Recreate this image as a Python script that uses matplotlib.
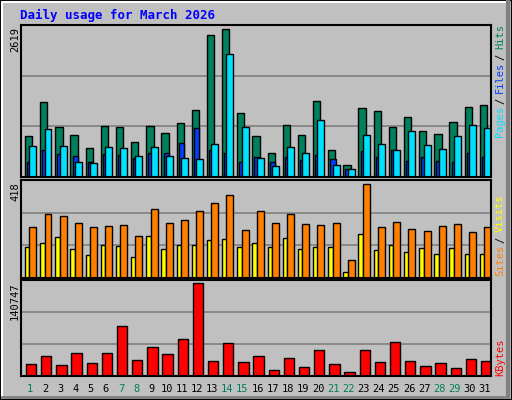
import matplotlib
matplotlib.use("Agg")
import matplotlib.pyplot as plt
from matplotlib.patches import Rectangle
import numpy as np

days = list(range(1, 32))
weekend = [1, 7, 8, 14, 15, 21, 22, 28, 29]
hits = [726,1327,885,743,513,903,885,619,903,779,956,1186,2513,2619,1133,726,425,920,743,1345,478,212,1221,1168,885,1062,814,761,973,1239,1274]
files = [266,478,407,372,266,407,389,336,425,425,602,867,478,425,266,354,266,354,301,389,319,142,460,354,478,283,354,283,266,425,354]
pages = [549,850,549,266,248,531,513,372,531,372,336,319,584,2177,885,336,195,531,425,1009,212,142,743,584,478,814,566,496,726,920,867]
sites = [136,154,182,127,104,145,141,95,186,127,145,145,168,173,136,154,136,177,127,136,136,27,195,123,145,114,132,109,132,109,109]
visits = [227,286,277,245,227,232,236,186,309,245,259,300,336,368,213,300,245,286,241,236,245,82,418,227,250,218,209,232,241,204,227]
kbytes = [18561,30935,17014,35576,20108,35576,75790,24748,43309,34029,55682,140747,23201,49495,21655,30935,9281,27841,13921,38668,18561,6187,38668,21655,51042,23201,15467,20108,12374,26295,23201]

W, H = 512, 400
fig = plt.figure(figsize=(W/100, H/100), dpi=100, facecolor="#c0c0c0")
mono = "DejaVu Sans Mono"
GREEN, BLUE, CYAN = "#00805c", "#0040ff", "#00e0ff"
YEL, ORA, RED = "#ffff00", "#ff8000", "#ff0000"

fig.patches.append(Rectangle((0, 0), 1, 1, transform=fig.transFigure, fill=False, ec="black", lw=1.5))
fig.lines.append(plt.Line2D([2/W, 2/W, 1-4/W], [4/H, 1-2/H, 1-2/H], transform=fig.transFigure, color="white", lw=1.5))
fig.lines.append(plt.Line2D([1-4/W, 1-4/W], [4/H, 1-2/H], transform=fig.transFigure, color="#808080", lw=3))
fig.lines.append(plt.Line2D([2/W, 1-4/W], [3/H, 3/H], transform=fig.transFigure, color="#808080", lw=2))

def mkax(top, bottom):
    ax = fig.add_axes([21/W, 1-bottom/H, 470/W, (bottom-top)/H])
    ax.set_facecolor("#c0c0c0")
    ax.set_xlim(0, 31)
    ax.set_xticks([]); ax.set_yticks([])
    for s in ax.spines.values():
        s.set_color("black"); s.set_linewidth(1.5)
    return ax

x = np.arange(31)
def grid(ax, ymax):
    for f in (1/3, 2/3):
        ax.axhline(ymax*f, color="#808080", lw=1.2, zorder=0)

ax1 = mkax(25, 177)
ym1 = max(hits)*152/148
ax1.set_ylim(0, ym1); grid(ax1, ym1)
ax1.bar(x+0.26, hits, width=0.48, align="edge", color=GREEN, ec="black", lw=1)
ax1.bar(x+0.40, files, width=0.35, align="edge", color=BLUE, ec="black", lw=1)
ax1.bar(x+0.55, pages, width=0.46, align="edge", color=CYAN, ec="black", lw=1)

ax2 = mkax(180, 278)
ym2 = max(visits)*96/92
ax2.set_ylim(0, ym2); grid(ax2, ym2)
ax2.bar(x+0.26, sites, width=0.30, align="edge", color=YEL, ec="black", lw=1)
ax2.bar(x+0.55, visits, width=0.46, align="edge", color=ORA, ec="black", lw=1)

ax3 = mkax(280, 376)
ym3 = max(kbytes)*94/91
ax3.set_ylim(0, ym3); grid(ax3, ym3)
ax3.bar(x+0.33, kbytes, width=0.68, align="edge", color=RED, ec="black", lw=1)

fs = 7.5
def px(xp, yp):
    return xp/W, 1-yp/H

fig.text(*px(20, 15), "Daily usage for March 2026", family=mono, weight="bold",
         color="#0000ff", fontsize=9, va="center", ha="left")

for label, ytop in ((f"{max(hits)}", 27), (f"{max(visits)}", 182), (f"{max(kbytes)}", 283)):
    fig.text(*px(15, ytop), label, family=mono, fontsize=fs, rotation=90,
             va="top", ha="center", color="black")

def vstack(pieces, ybottom, xpos=500, cw=5.5):
    y = ybottom
    for s, c in pieces:
        fig.text(*px(xpos, y - cw*(len(s) - len(s.lstrip()))), s.strip(), family=mono, fontsize=fs,
                 rotation=90, va="bottom", ha="center", color=c)
        y -= cw*len(s)

vstack([("Pages", CYAN), (" / ", "black"), ("Files", BLUE), (" / ", "black"), ("Hits", GREEN)], 137)
vstack([("Sites", ORA), (" / ", "black"), ("Visits", YEL)], 276)
vstack([("KBytes", RED)], 376)

for d in days:
    xc = 21 + (d-1+0.6)*470/31
    fig.text(*px(xc, 389), str(d), family=mono, fontsize=fs, ha="center", va="center",
             color=GREEN if d in weekend else "black")

fig.savefig("out.png", dpi=100, facecolor=fig.get_facecolor())
